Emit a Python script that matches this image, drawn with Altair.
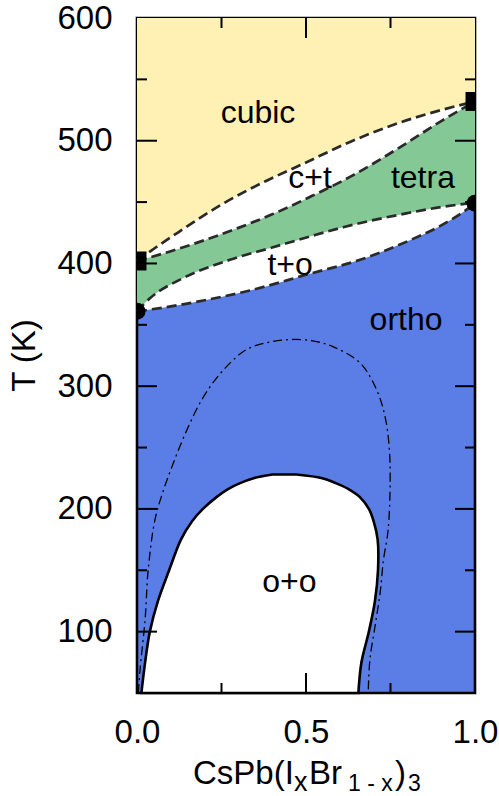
import altair as alt
import pandas as pd

FONT = "Liberation Sans"
W, H = 338, 675

YELLOW = "#fff1b4"
GREEN = "#84c995"
BLUE = "#5b7de6"
LINE = "#2a2a2a"

# Phase boundaries (x = iodide fraction, T in K)
cubic_x = [0.0, 0.05, 0.12, 0.25, 0.38, 0.49, 0.63, 0.78, 0.9, 1.0]
cubic_T = [402, 412, 425, 448, 467, 481, 499, 515, 525, 532]

tetra_hi_x = [0.0, 0.1, 0.2, 0.3, 0.4, 0.51, 0.63, 0.78, 0.9, 1.0]
tetra_hi_T = [402, 410, 419, 429, 440, 454, 470.5, 495, 516, 532]

tetra_lo_x = [0.0, 0.04, 0.136, 0.275, 0.4, 0.512, 0.61, 0.8, 0.9, 1.0]
tetra_lo_T = [361, 372, 388, 403, 413, 422, 429.5, 441, 446, 449.5]

ortho_hi_x = [0.0, 0.1, 0.2, 0.334, 0.51, 0.66, 0.8, 0.9, 0.976, 1.0]
ortho_hi_T = [361, 365, 370, 378, 391.5, 403, 418, 431, 444, 449]

# Miscibility gap (binodal), left and right branches at common temperatures
binodal_T = [50, 75, 100, 125, 150, 175, 190, 200, 210, 216, 221, 225, 228]
binodal_left = [0.013, 0.024, 0.038, 0.062, 0.095, 0.130, 0.163, 0.195, 0.237,
                0.268, 0.305, 0.345, 0.400]
binodal_right = [0.655, 0.664, 0.686, 0.704, 0.713, 0.712, 0.700, 0.686, 0.658,
                 0.627, 0.588, 0.548, 0.472]

# Spinodal, listed along the curve
spinodal_x = [0.004, 0.009, 0.024, 0.033, 0.053, 0.078, 0.107, 0.147, 0.196, 0.255,
              0.325, 0.393, 0.453, 0.520, 0.581, 0.660, 0.709, 0.734, 0.746, 0.749,
              0.743, 0.729, 0.719, 0.704, 0.689, 0.684]
spinodal_T = [50, 69, 110, 150, 191, 215, 237, 264, 291, 313,
              330, 336, 338, 337, 332, 319, 297, 275, 251, 224,
              183, 158, 131, 104, 77, 50]

# Transition temperatures of the end members
square_x = [0.0, 1.0]
square_T = [402, 532]
circle_x = [0.0, 1.0]
circle_T = [361, 449]

# Region names
region_names = ["cubic", "c+t", "tetra", "t+o", "ortho", "o+o"]
region_x = [0.358, 0.512, 0.846, 0.453, 0.796, 0.451]
region_T = [522.6, 469.6, 470.0, 399.0, 354.0, 140.5]

# Axis ticks
x_labels = [0.0, 0.5, 1.0]
y_labels = [100, 200, 300, 400, 500, 600]
x_major = [0.5]
x_minor = [0.25, 0.75]
y_major = [100, 200, 300, 400, 500]
y_minor = [150, 250, 350, 450, 550]

xs = alt.Scale(domain=[0, 1], nice=False, zero=False)
ys = alt.Scale(domain=[50, 600], nice=False, zero=False)

# One axis definition shared by every layer so the merged axes stay consistent
XA = alt.Axis(values=x_labels, format=".1f", title=None, domain=False, ticks=False,
              tickSize=0, grid=False, labelFontSize=33, labelFont=FONT,
              labelColor="black", labelPadding=23, labelFlush=False,
              labelOverlap=False)
YA = alt.Axis(values=y_labels, format="d", title=None, domain=False, ticks=False,
              tickSize=0, grid=False, labelFontSize=33, labelFont=FONT,
              labelColor="black", labelPadding=25, labelOverlap=False)


def X(field):
    return alt.X(field, type="quantitative", scale=xs, axis=XA)


def Y(field):
    return alt.Y(field, type="quantitative", scale=ys, axis=YA)


def curve_df(xv, tv):
    return pd.DataFrame({"x": xv, "T": tv})


def fill_above(xv, tv, color):
    return alt.Chart(curve_df(xv, tv)).mark_area(
        color=color, interpolate="monotone", opacity=1
    ).encode(x=X("x"), y=Y("T"), y2=alt.datum(600))


# Stacked fills, painted from the bottom phase upwards (ortho = background)
layer_to = fill_above(ortho_hi_x, ortho_hi_T, "white")
layer_tet = fill_above(tetra_lo_x, tetra_lo_T, GREEN)
layer_ct = fill_above(tetra_hi_x, tetra_hi_T, "white")
layer_cub = fill_above(cubic_x, cubic_T, YELLOW)

# o+o miscibility dome
dome = alt.Chart(pd.DataFrame({"T": binodal_T, "xl": binodal_left, "xr": binodal_right})).mark_area(
    orient="horizontal", interpolate="catmull-rom", fill="white", stroke="black",
    strokeWidth=2.6, opacity=1
).encode(y=Y("T"), x=X("xl"), x2="xr:Q")

# Dashed phase boundaries
bounds = pd.concat([
    curve_df(cubic_x, cubic_T).assign(curve="cubic"),
    curve_df(tetra_hi_x, tetra_hi_T).assign(curve="tetra_hi"),
    curve_df(tetra_lo_x, tetra_lo_T).assign(curve="tetra_lo"),
    curve_df(ortho_hi_x, ortho_hi_T).assign(curve="ortho_hi"),
])
dashed = alt.Chart(bounds).mark_line(
    color=LINE, strokeWidth=2.7, strokeDash=[10, 5], interpolate="monotone"
).encode(x=X("x"), y=Y("T"), detail="curve:N")

spin_df = pd.DataFrame({"x": spinodal_x, "T": spinodal_T, "i": list(range(len(spinodal_x)))})
spinodal = alt.Chart(spin_df).mark_line(
    color="black", strokeWidth=1.3, strokeDash=[9, 4, 2, 4], interpolate="catmull-rom"
).encode(x=X("x"), y=Y("T"), order="i:Q")

squares = alt.Chart(curve_df(square_x, square_T)).mark_point(
    shape="square", filled=True, color="black", size=360, opacity=1, clip=True
).encode(x=X("x"), y=Y("T"))
circles = alt.Chart(curve_df(circle_x, circle_T)).mark_point(
    shape="circle", filled=True, color="black", size=290, opacity=1, clip=True
).encode(x=X("x"), y=Y("T"))

names = alt.Chart(pd.DataFrame({"name": region_names, "x": region_x, "T": region_T})).mark_text(
    font=FONT, fontSize=32, color="black", align="center", baseline="middle"
).encode(x=X("x"), y=Y("T"), text="name:N")


# Inward ticks on all four sides
def xticks(vals, length):
    d = pd.DataFrame({"v": vals})
    bottom = alt.Chart(d).mark_rule(color="black", strokeWidth=2).encode(
        x=X("v"), y=alt.value(H), y2=alt.value(H - length))
    top = alt.Chart(d).mark_rule(color="black", strokeWidth=2).encode(
        x=X("v"), y=alt.value(0), y2=alt.value(length))
    return [bottom, top]


def yticks(vals, length):
    d = pd.DataFrame({"v": vals})
    left = alt.Chart(d).mark_rule(color="black", strokeWidth=2).encode(
        y=Y("v"), x=alt.value(0), x2=alt.value(length))
    right = alt.Chart(d).mark_rule(color="black", strokeWidth=2).encode(
        y=Y("v"), x=alt.value(W), x2=alt.value(W - length))
    return [left, right]


ticks = xticks(x_major, 20) + xticks(x_minor, 10) + yticks(y_major, 20) + yticks(y_minor, 10)


# Axis titles
def title_piece(text, left, base, size, angle=0, align="left", baseline="alphabetic"):
    return alt.Chart(pd.DataFrame({"t": [text]})).mark_text(
        font=FONT, fontSize=size, color="black", align=align, baseline=baseline, angle=angle
    ).encode(text="t:N", x=alt.value(left), y=alt.value(base))


x_title = [
    title_piece("CsPb(I", 56, 766, 33),
    title_piece("x", 157, 773, 27),
    title_piece("Br", 172, 766, 33),
    title_piece("1 - x", 211, 773, 23),
    title_piece(")", 258, 766, 33),
    title_piece("3", 271, 773, 23),
]
y_title = title_piece("T (K)", -112, H / 2, 33, angle=270, align="center", baseline="middle")

chart = alt.layer(
    layer_to, layer_tet, layer_ct, layer_cub, dome, spinodal, dashed,
    squares, circles, names, *ticks, *x_title, y_title
).properties(
    width=W, height=H,
    padding={"left": 137, "top": 18, "right": 24, "bottom": 103},
    autosize=alt.AutoSizeParams(type="none"),
).configure_view(
    stroke="black", strokeWidth=2.6, fill=BLUE
)

chart.save("out.html", embed_options={"renderer": "svg", "actions": False})
